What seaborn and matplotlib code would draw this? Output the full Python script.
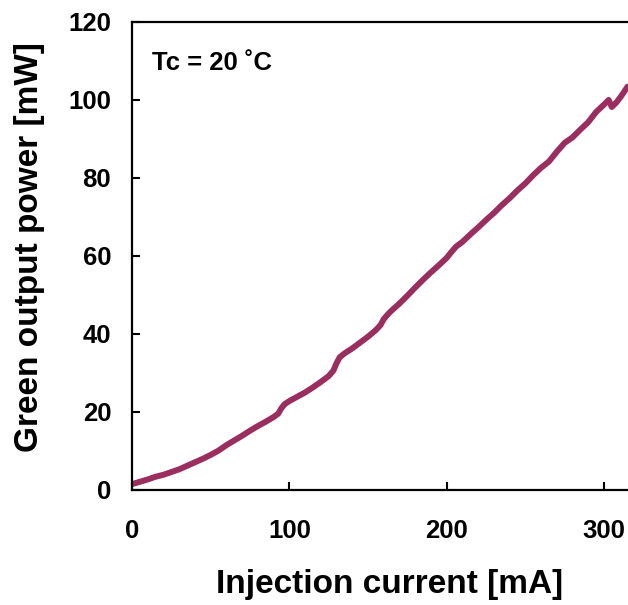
import numpy as np
import pandas as pd
import matplotlib
matplotlib.use("Agg")
import matplotlib.pyplot as plt
import seaborn as sns

# Injection current [mA] and green output power [mW]
current_ma = [0, 5, 10, 15, 20, 25, 30, 35, 40, 45, 50, 55, 60, 65, 70, 75,
              80, 85, 90, 93, 95, 97, 100, 105, 110, 115, 120, 125, 128, 130,
              132, 135, 140, 145, 150, 155, 158, 160, 163, 165, 170, 175, 180,
              185, 190, 195, 200, 203, 206, 210, 215, 220, 225, 230, 235, 240,
              245, 250, 255, 260, 265, 270, 275, 280, 285, 290, 295, 300, 303,
              305, 308, 311, 315]
power_mw = [1.5, 2.1, 2.7, 3.4, 3.9, 4.6, 5.3, 6.2, 7.1, 8.0, 9.0, 10.1, 11.5,
            12.7, 13.9, 15.2, 16.4, 17.5, 18.7, 19.6, 21.0, 22.0, 22.8, 23.9,
            25.0, 26.3, 27.7, 29.2, 30.6, 32.5, 34.0, 35.0, 36.3, 37.8, 39.3,
            41.0, 42.3, 43.8, 45.2, 46.0, 47.8, 49.8, 51.9, 53.9, 55.8, 57.6,
            59.5, 61.0, 62.4, 63.6, 65.5, 67.3, 69.2, 71.0, 73.0, 74.8, 76.8,
            78.6, 80.7, 82.6, 84.2, 86.7, 89.0, 90.4, 92.4, 94.3, 96.9, 98.8,
            100.0, 98.2, 99.4, 101.0, 103.4]

x_ticks = [0, 100, 200, 300]
y_ticks = [0, 20, 40, 60, 80, 100, 120]
annotation = "Tc = 20 \u02daC"

df = pd.DataFrame({"current": current_ma, "power": power_mw})

sns.set_style("ticks")
plt.rcParams["font.family"] = ["Liberation Sans", "DejaVu Sans"]
plt.rcParams["font.weight"] = "bold"
plt.rcParams["text.color"] = "black"
plt.rcParams["axes.labelcolor"] = "black"
plt.rcParams["xtick.color"] = "black"
plt.rcParams["ytick.color"] = "black"

fig = plt.figure(figsize=(6.28, 6.05), dpi=100)
ax = fig.add_axes([0.2102, 0.1901, 0.7898, 0.7736])

sns.lineplot(data=df, x="current", y="power", color="#9A2E5E",
             linewidth=4.3, ax=ax)

ax.set_xlim(0, 315.3)
ax.set_ylim(0, 120)
ax.set_xticks(x_ticks)
ax.set_yticks(y_ticks)

ax.tick_params(axis="x", direction="in", length=6, width=1.5,
               labelsize=18.5, pad=21, colors="black")
ax.tick_params(axis="y", direction="in", length=6, width=1.5,
               labelsize=18.5, pad=15, colors="black")
for lbl in ax.get_xticklabels() + ax.get_yticklabels():
    lbl.set_fontweight("bold")

ax.spines["right"].set_visible(False)
for side in ["left", "bottom", "top"]:
    ax.spines[side].set_linewidth(1.6)
    ax.spines[side].set_color("black")

ax.set_xlabel("Injection current [mA]", fontsize=24, fontweight="bold",
              va="center", color="black")
ax.set_ylabel("Green output power [mW]", fontsize=24, fontweight="bold",
              va="center", color="black")
ax.xaxis.set_label_coords(0.52, -0.203)
ax.yaxis.set_label_coords(-0.206, 0.519)

ax.text(12.7, 109.5, annotation, fontsize=18.5, fontweight="bold",
        va="center", ha="left", color="black")

fig.savefig("out.png", dpi=100)
